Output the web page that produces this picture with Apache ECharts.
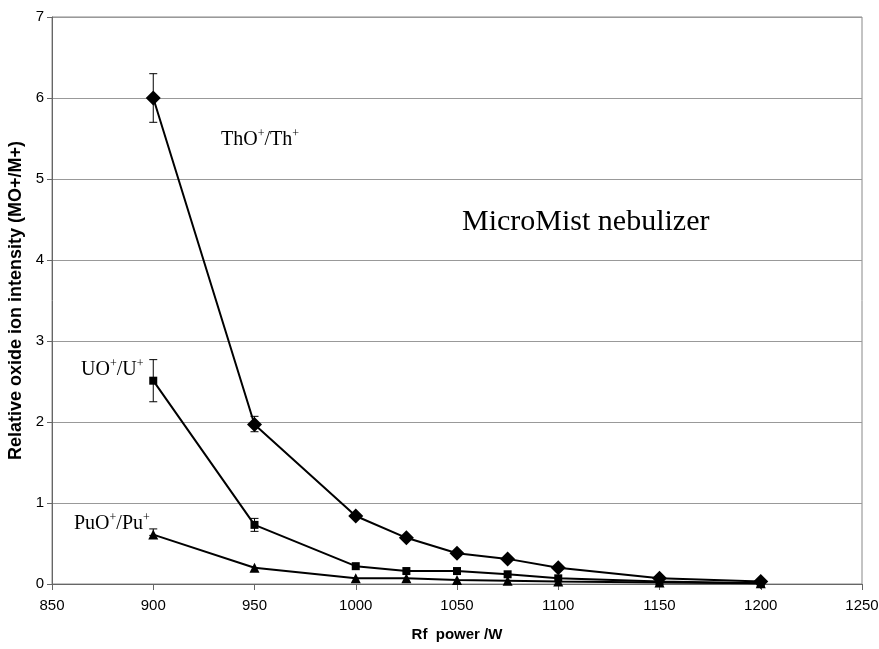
<!DOCTYPE html>
<html>
<head>
<meta charset="utf-8">
<script src="https://cdn.jsdelivr.net/npm/echarts@6/dist/echarts.min.js"></script>
<style>
  html, body { margin: 0; padding: 0; background: #fff; }
  #chart { width: 879px; height: 649px; }
</style>
</head>
<body>
<div id="chart"></div>
<script>
// rf power (W)
var power = [900, 950, 1000, 1025, 1050, 1075, 1100, 1150, 1200];
// oxide ratios
var thO = [6.0, 1.97, 0.84, 0.57, 0.38, 0.31, 0.20, 0.07, 0.03];
var uO = [2.51, 0.73, 0.22, 0.16, 0.16, 0.12, 0.07, 0.03, 0.01];
var puO = [0.61, 0.20, 0.07, 0.07, 0.05, 0.04, 0.03, 0.02, 0.01];
// error bars: [power, low, high]
var thErr = [[900, 5.7, 6.3], [950, 1.88, 2.07]];
var uErr = [[900, 2.25, 2.77], [950, 0.65, 0.81]];
var puErr = [[900, 0.60, 0.68]];

var xTicks = { min: 850, max: 1250, interval: 50 };
var yTicks = { min: 0, max: 7, interval: 1 };

function pairs(ys) {
  return power.map(function (p, i) { return [p, ys[i]]; });
}

function errSeries(data) {
  return {
    type: 'custom',
    z: 1,
    data: data,
    renderItem: function (params, api) {
      var x = api.value(0);
      var lo = api.coord([x, api.value(1)]);
      var hi = api.coord([x, api.value(2)]);
      var w = 4;
      var st = { stroke: '#000', lineWidth: 1 };
      return {
        type: 'group',
        children: [
          { type: 'line', shape: { x1: lo[0], y1: lo[1], x2: hi[0], y2: hi[1] }, style: st },
          { type: 'line', shape: { x1: lo[0] - w, y1: lo[1], x2: lo[0] + w, y2: lo[1] }, style: st },
          { type: 'line', shape: { x1: hi[0] - w, y1: hi[1], x2: hi[0] + w, y2: hi[1] }, style: st }
        ]
      };
    }
  };
}

function lineSeries(name, ys, symbol, size) {
  return {
    name: name,
    type: 'line',
    data: pairs(ys),
    symbol: symbol,
    symbolSize: size,
    z: 3,
    lineStyle: { color: '#000', width: 2 },
    itemStyle: { color: '#000' }
  };
}

var serif = '"Liberation Serif", "Times New Roman", serif';
function label(x, y, main, sup, fs) {
  var parts = [];
  for (var i = 0; i < main.length; i++) {
    parts.push('{a|' + main[i] + '}');
    if (sup[i]) parts.push('{s|+}');
  }
  return {
    type: 'text',
    left: x,
    top: y,
    style: {
      text: parts.join(''),
      rich: {
        a: { fontFamily: serif, fontSize: fs, fill: '#000', lineHeight: fs + 4 },
        s: { fontFamily: serif, fontSize: Math.round(fs * 0.6), fill: '#000', lineHeight: fs + 4, verticalAlign: 'top', padding: [0, 0, 9, 0] }
      }
    }
  };
}

var chart = echarts.init(document.getElementById('chart'));
var option = {
  animation: false,
  backgroundColor: '#fff',
  grid: { left: 52, right: 17, top: 17, bottom: 65, show: true, borderColor: '#888', borderWidth: 1, outerBoundsMode: 'none', containLabel: false },
  xAxis: {
    type: 'value',
    min: xTicks.min, max: xTicks.max, interval: xTicks.interval,
    name: 'Rf  power /W',
    nameLocation: 'middle',
    nameGap: 43,
    nameTextStyle: { fontFamily: '"Liberation Sans", Arial', fontWeight: 'bold', fontSize: 15, color: '#000' },
    axisLine: { lineStyle: { color: '#666' } },
    axisTick: { show: true, length: 6, lineStyle: { color: '#666' } },
    axisLabel: {
      fontFamily: '"Liberation Sans", Arial', fontSize: 15, color: '#000', margin: 14,
      formatter: function (v) { return String(v); }
    },
    splitLine: { show: false }
  },
  yAxis: {
    type: 'value',
    min: yTicks.min, max: yTicks.max, interval: yTicks.interval,
    name: 'Relative oxide ion intensity (MO+/M+)',
    nameLocation: 'middle',
    nameGap: 24,
    nameTextStyle: { fontFamily: '"Liberation Sans", Arial', fontWeight: 'bold', fontSize: 18, color: '#000' },
    axisLine: { show: true, lineStyle: { color: '#666' } },
    axisTick: { show: true, length: 5, lineStyle: { color: '#666' } },
    axisLabel: { fontFamily: '"Liberation Sans", Arial', fontSize: 15, color: '#000', margin: 8 },
    splitLine: { show: true, lineStyle: { color: '#999', width: 1 } }
  },
  graphic: [
    label(221, 128, ['ThO', '/Th'], [true, true], 20),
    label(81, 358, ['UO', '/U'], [true, true], 20),
    label(74, 512, ['PuO', '/Pu'], [true, true], 20),
    {
      type: 'text', left: 462, top: 207,
      style: { text: 'MicroMist nebulizer', fontFamily: serif, fontSize: 30, fill: '#000' }
    }
  ],
  series: [
    errSeries(thErr),
    errSeries(uErr),
    errSeries(puErr),
    lineSeries('ThO+/Th+', thO, 'diamond', 15),
    lineSeries('UO+/U+', uO, 'rect', 8),
    lineSeries('PuO+/Pu+', puO, 'triangle', 10)
  ]
};
chart.setOption(option);
</script>
</body>
</html>
